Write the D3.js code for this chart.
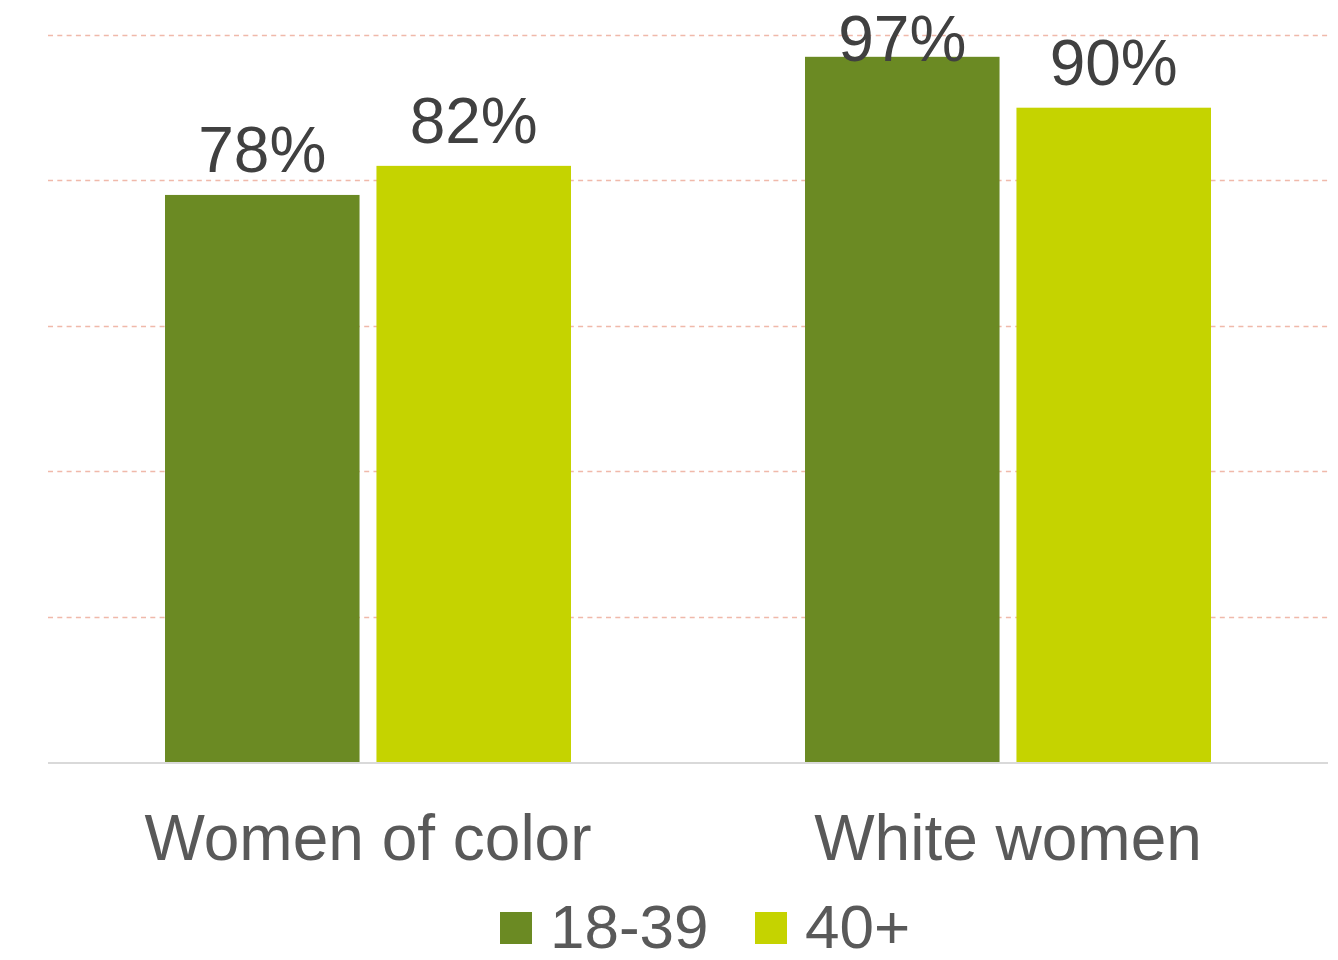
<!DOCTYPE html>
<html>
<head>
<meta charset="utf-8">
<script src="https://cdn.jsdelivr.net/npm/d3@7"></script>
<style>
  html, body { margin: 0; padding: 0; background: #ffffff; }
  svg { display: block; font-family: "Liberation Sans", Arial, sans-serif; }
</style>
</head>
<body>
<svg id="chart" width="1338" height="960"></svg>
<script>
// Share of respondents by group and age band
const categories = ["Women of color", "White women"];
const seriesNames = ["18-39", "40+"];
const values18to39 = [78, 97];
const values40plus = [82, 90];
const yTicks = [0, 20, 40, 60, 80, 100];
const seriesColors = ["#6b8a23", "#c5d300"];

const svg = d3.select("#chart");
const margin = { left: 48, right: 10, top: 35, baseline: 762 };
const width = 1338;

const x0 = d3.scaleBand()
  .domain(categories)
  .range([margin.left, width - margin.right])
  .paddingInner(0)
  .paddingOuter(0);

const x1 = d3.scaleBand()
  .domain(seriesNames)
  .range([117, 523])
  .paddingInner(0.08);

const y = d3.scaleLinear()
  .domain([0, 100])
  .range([margin.baseline, margin.top]);

// Dashed horizontal gridlines
svg.append("g")
  .selectAll("line")
  .data(yTicks.filter(d => d > 0))
  .join("line")
  .attr("x1", margin.left)
  .attr("x2", width - margin.right)
  .attr("y1", d => Math.round(y(d)) + 0.5)
  .attr("y2", d => Math.round(y(d)) + 0.5)
  .attr("stroke", "#f0b9aa")
  .attr("stroke-width", 1.5)
  .attr("stroke-dasharray", "5,4.3");

const rows = categories.map((c, i) => ({
  category: c,
  items: [
    { series: seriesNames[0], value: values18to39[i], color: seriesColors[0] },
    { series: seriesNames[1], value: values40plus[i], color: seriesColors[1] }
  ]
}));

const groups = svg.append("g")
  .selectAll("g")
  .data(rows)
  .join("g")
  .attr("transform", d => `translate(${x0(d.category)},0)`);

groups.selectAll("rect")
  .data(d => d.items)
  .join("rect")
  .attr("x", d => x1(d.series))
  .attr("width", x1.bandwidth())
  .attr("y", d => y(d.value))
  .attr("height", d => y(0) - y(d.value))
  .attr("fill", d => d.color);

// Baseline axis
svg.append("line")
  .attr("x1", margin.left)
  .attr("x2", width - margin.right)
  .attr("y1", margin.baseline + 1)
  .attr("y2", margin.baseline + 1)
  .attr("stroke", "#d9d9d9")
  .attr("stroke-width", 2);

// Value labels above bars (kept inside the top of the plot)
groups.selectAll("text.value")
  .data(d => d.items)
  .join("text")
  .attr("class", "value")
  .attr("x", d => x1(d.series) + x1.bandwidth() / 2)
  .attr("y", d => Math.max(y(d.value) - 23, 61))
  .attr("text-anchor", "middle")
  .attr("font-size", 64)
  .attr("fill", "#404040")
  .text(d => d.value + "%");

// Category axis labels
svg.append("g")
  .selectAll("text")
  .data(categories)
  .join("text")
  .attr("x", d => x0(d) + x0.bandwidth() / 2)
  .attr("y", 860)
  .attr("text-anchor", "middle")
  .attr("font-size", 64)
  .attr("fill", "#595959")
  .text(d => d);

// Legend
const legend = svg.append("g");
const legendItems = [
  { name: seriesNames[0], color: seriesColors[0], x: 500 },
  { name: seriesNames[1], color: seriesColors[1], x: 755 }
];
const li = legend.selectAll("g")
  .data(legendItems)
  .join("g")
  .attr("transform", d => `translate(${d.x},0)`);
li.append("rect")
  .attr("x", 0)
  .attr("y", 912)
  .attr("width", 32)
  .attr("height", 32)
  .attr("fill", d => d.color);
li.append("text")
  .attr("x", 50)
  .attr("y", 948)
  .attr("font-size", 62)
  .attr("fill", "#595959")
  .text(d => d.name);
</script>
</body>
</html>
